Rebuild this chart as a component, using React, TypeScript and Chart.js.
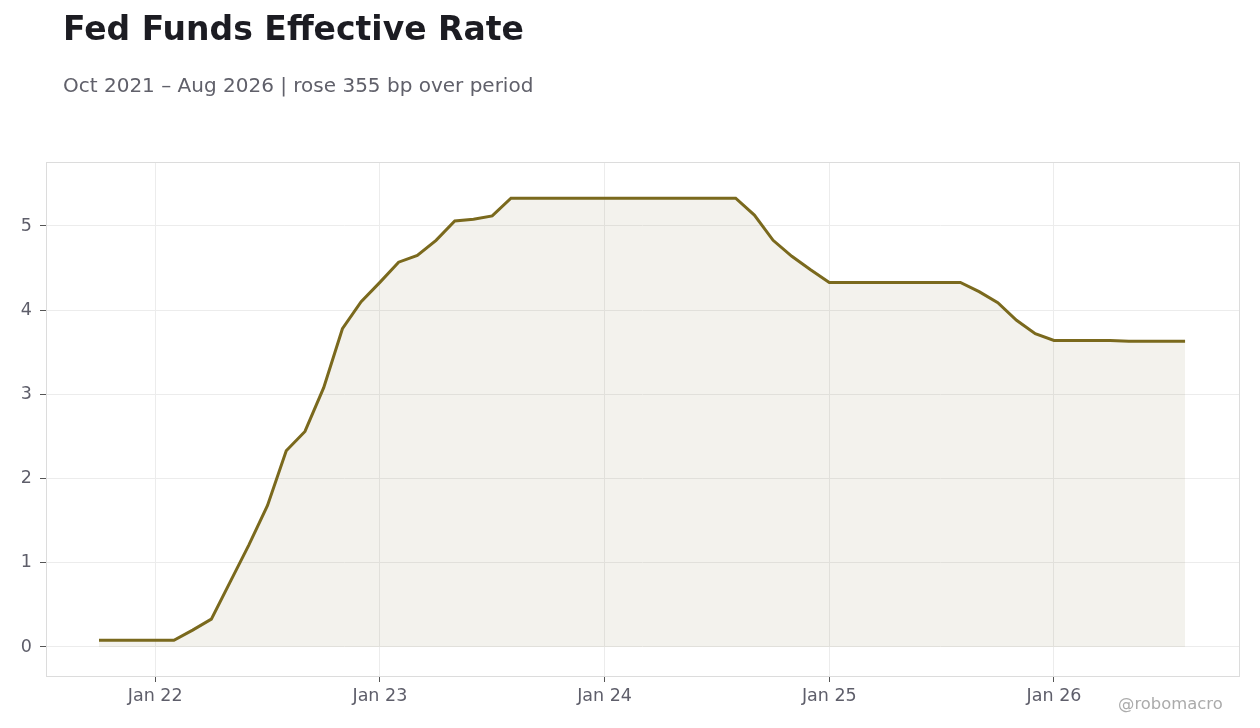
import React, { useEffect, useRef } from "react";
import { Chart, registerables } from "chart.js";

Chart.register(...registerables);

const months: string[] = [
  "Oct 21", "Nov 21", "Dec 21",
  "Jan 22", "Feb 22", "Mar 22", "Apr 22", "May 22", "Jun 22", "Jul 22", "Aug 22", "Sep 22", "Oct 22", "Nov 22", "Dec 22",
  "Jan 23", "Feb 23", "Mar 23", "Apr 23", "May 23", "Jun 23", "Jul 23", "Aug 23", "Sep 23", "Oct 23", "Nov 23", "Dec 23",
  "Jan 24", "Feb 24", "Mar 24", "Apr 24", "May 24", "Jun 24", "Jul 24", "Aug 24", "Sep 24", "Oct 24", "Nov 24", "Dec 24",
  "Jan 25", "Feb 25", "Mar 25", "Apr 25", "May 25", "Jun 25", "Jul 25", "Aug 25", "Sep 25", "Oct 25", "Nov 25", "Dec 25",
  "Jan 26", "Feb 26", "Mar 26", "Apr 26", "May 26", "Jun 26", "Jul 26", "Aug 26",
];

const rates: number[] = [
  0.08, 0.08, 0.08,
  0.08, 0.08, 0.20, 0.33, 0.77, 1.21, 1.68, 2.33, 2.56, 3.08, 3.78, 4.10,
  4.33, 4.57, 4.65, 4.83, 5.06, 5.08, 5.12, 5.33, 5.33, 5.33, 5.33, 5.33,
  5.33, 5.33, 5.33, 5.33, 5.33, 5.33, 5.33, 5.33, 5.13, 4.83, 4.64, 4.48,
  4.33, 4.33, 4.33, 4.33, 4.33, 4.33, 4.33, 4.33, 4.22, 4.09, 3.88, 3.72,
  3.64, 3.64, 3.64, 3.64, 3.63, 3.63, 3.63, 3.63,
];

const xTickLabels: string[] = ["Jan 22", "Jan 23", "Jan 24", "Jan 25", "Jan 26"];
const yTickValues: number[] = [0, 1, 2, 3, 4, 5];

const LINE = "#7a691d";
const FONT = "'DejaVu Sans', sans-serif";

export default function App() {
  const ref = useRef<HTMLCanvasElement | null>(null);

  useEffect(() => {
    if (!ref.current) return;
    const points = rates.map((v, i) => ({ x: i, y: v }));
    const xTickPos = xTickLabels.map((l) => months.indexOf(l));

    const frame = {
      id: "frame",
      afterDraw(chart: any) {
        const { ctx, chartArea } = chart;
        ctx.save();
        ctx.strokeStyle = "#dcdcdc";
        ctx.lineWidth = 1;
        ctx.strokeRect(
          Math.round(chartArea.left) + 0.5,
          Math.round(chartArea.top) + 0.5,
          Math.round(chartArea.right - chartArea.left),
          Math.round(chartArea.bottom - chartArea.top)
        );
        ctx.restore();
      },
    };

    const chart = new Chart(ref.current, {
      type: "line",
      data: {
        datasets: [
          {
            data: points,
            borderColor: LINE,
            borderWidth: 3,
            backgroundColor: "rgba(120,110,60,0.09)",
            fill: "origin",
            pointRadius: 0,
            tension: 0,
          },
        ],
      },
      options: {
        animation: false,
        responsive: false,
        layout: { padding: { left: 0, right: 21, top: 162, bottom: 0 } },
        plugins: {
          legend: { display: false },
          tooltip: { enabled: false },
        },
        scales: {
          x: {
            type: "linear",
            min: -2.83,
            max: 60.88,
            afterBuildTicks(scale: any) {
              scale.ticks = xTickPos.map((v) => ({ value: v }));
            },
            afterFit(scale: any) {
              scale.height = 52;
            },
            ticks: {
              autoSkip: false,
              maxRotation: 0,
              padding: 4,
              color: "#5e5e6a",
              font: { family: FONT, size: 17.5 },
              callback: (v: any) => months[Math.round(Number(v))] ?? "",
            },
            grid: {
              color: "#ececec",
              tickColor: "#555",
              tickLength: 6,
              drawOnChartArea: true,
            },
            border: { display: false },
          },
          y: {
            type: "linear",
            min: -0.345,
            max: 5.76,
            afterBuildTicks(scale: any) {
              scale.ticks = yTickValues.map((v) => ({ value: v }));
            },
            afterFit(scale: any) {
              scale.width = 46;
            },
            ticks: {
              padding: 8,
              color: "#5e5e6a",
              font: { family: FONT, size: 17.5 },
            },
            grid: {
              color: "#ececec",
              tickColor: "#555",
              tickLength: 6,
            },
            border: { display: false },
          },
        },
      },
      plugins: [frame],
    } as any);
    return () => chart.destroy();
  }, []);

  return (
    <div style={{ position: "fixed", left: 0, top: 0, width: 1260, height: 728, background: "#fff", fontFamily: FONT }}>
      <canvas ref={ref} width={1260} height={728} style={{ position: "absolute", left: 0, top: 0, width: 1260, height: 728 }} />
      <div style={{ position: "absolute", left: 63, top: 9, fontSize: 33, lineHeight: "normal", fontWeight: 700, color: "#1c1c22", whiteSpace: "nowrap" }}>
        Fed Funds Effective Rate
      </div>
      <div style={{ position: "absolute", left: 63, top: 73, fontSize: 20, lineHeight: "normal", color: "#60606a", whiteSpace: "nowrap" }}>
        Oct 2021 – Aug 2026 | rose 355 bp over period
      </div>
      <div style={{ position: "absolute", left: 1118, top: 694, fontSize: 16.4, lineHeight: "normal", color: "#ababab", whiteSpace: "nowrap" }}>
        @robomacro
      </div>
    </div>
  );
}
